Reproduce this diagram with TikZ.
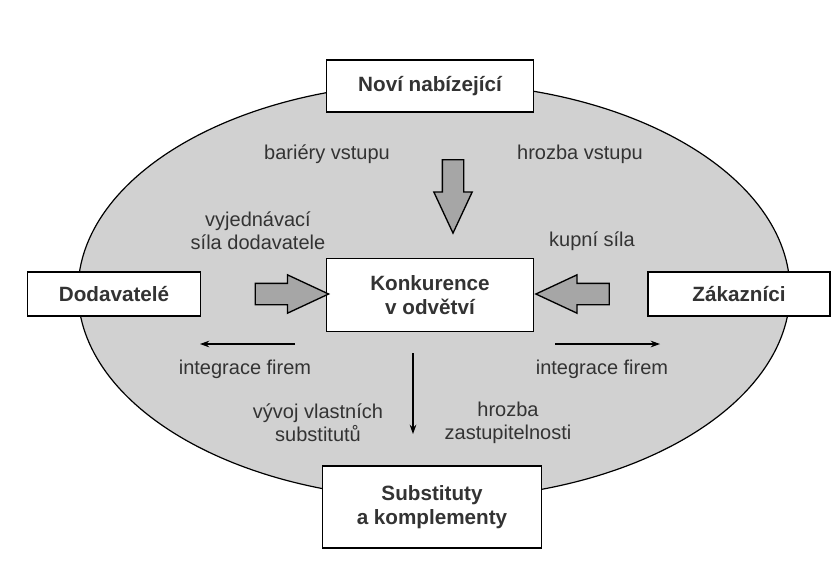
\documentclass[tikz,border=0pt]{standalone}
\usepackage{fontspec}
\setmainfont{Liberation Sans}
\usetikzlibrary{shapes.arrows,arrows.meta}

\begin{document}
\begin{tikzpicture}[x=0.75pt,y=-0.75pt,>={Stealth[length=7pt,width=5pt]}]
    % styles
    \tikzset{force/.style={draw,fill=white,line width=1.1pt,inner sep=0pt,align=center,text=black!80,font=\fontsize{15.5}{17.5}\selectfont\bfseries}}
    \tikzset{note/.style={align=center,text=black!80,font=\fontsize{15}{17.5}\selectfont}}
    \tikzset{fatarrow/.style={single arrow,draw,fill=black!35,line width=1pt,inner sep=7.5pt,minimum height=55pt,single arrow head extend=6.4pt,single arrow tip angle=50}}
    \useasboundingbox (0,0) rectangle (837,576);

    % industry
    \draw[fill=black!18,line width=0.9pt] (434,291) ellipse [x radius=356,y radius=208];

    % nodes
    \node[force,minimum width=155pt,minimum height=39pt]   (new)   at (430,86)  {Noví nabízející};
    \node[force,minimum width=130pt,minimum height=33pt]   (supp)  at (114,294) {Dodavatelé};
    \node[force,minimum width=155pt,minimum height=55pt]   (rival) at (430,295) {Konkurence\\v odvětví};
    \node[force,minimum width=136.5pt,minimum height=33pt] (cust)  at (739,294) {Zákazníci};
    \node[force,minimum width=164pt,minimum height=61.5pt] (subst) at (432,507) {Substituty\\a komplementy};

    % forces
    \node[fatarrow,rotate=-90] (entry)  at (453,185)   {};
    \node[fatarrow]            (supply) at (280.5,294) {};
    \node[fatarrow,rotate=180] (buy)    at (584,294)   {};

    % integration and substitution
    \coordinate (intLa) at (295,344);
    \coordinate (intLb) at (200,344);
    \coordinate (intRa) at (555,344);
    \coordinate (intRb) at (660,344);
    \coordinate (subA)  at (413,353);
    \coordinate (subB)  at (413,434);
    \draw[->,line width=0.8pt] (intLa) -- (intLb);
    \draw[->,line width=0.8pt] (intRa) -- (intRb);
    \draw[->,line width=0.8pt] (subA) -- (subB);

    % labels
    \node[note] (barr)  at (327,154) {bariéry vstupu};
    \node[note] (threat) at (580,154) {hrozba vstupu};
    \node[note] (bargS) at (258,231) {vyjednávací\\síla dodavatele};
    \node[note] (bargC) at (592,241) {kupní síla};
    \node[note] (intL)  at (245,369) {integrace firem};
    \node[note] (intR)  at (602,369) {integrace firem};
    \node[note] (own)   at (318,423) {vývoj vlastních\\substitutů};
    \node[note] (repl)  at (508,423) {hrozba\\zastupitelnosti};
\end{tikzpicture}
\end{document}
